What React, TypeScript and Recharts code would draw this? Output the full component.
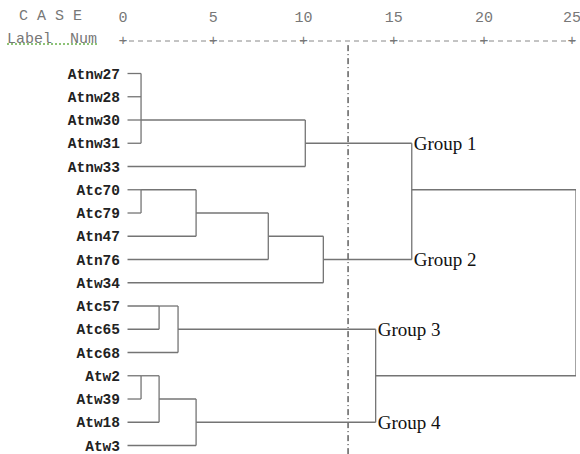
import { ComposedChart, Line, XAxis, YAxis, ReferenceLine, LabelList } from "recharts";

const leafLabels = [
  "Atnw27", "Atnw28", "Atnw30", "Atnw31", "Atnw33",
  "Atc70", "Atc79", "Atn47", "Atn76", "Atw34",
  "Atc57", "Atc65", "Atc68", "Atw2", "Atw39", "Atw18", "Atw3",
];
const distanceTicks = [0, 5, 10, 15, 20, 25];

// each merge: the rows of its children, where each child's line starts, and the joining distance
const mergeRows = [
  [0, 1, 2, 3], [2, 4], [5, 6], [5, 7], [6, 8], [7, 9], [3, 8],
  [10, 11], [10, 12], [13, 14], [13, 15], [14, 16], [11, 15], [5, 13],
];
const mergeStarts = [
  [0.25, 0.25, 0.25, 0.25], [1, 0.25], [0.25, 0.25], [1, 0.25], [4.05, 0.25], [8.05, 0.25], [10.1, 11.1],
  [0.25, 0.25], [2, 0.25], [0.25, 0.25], [1, 0.25], [2, 0.25], [3.05, 4.05], [16, 14],
];
const mergeHeights = [1, 10.1, 1, 4.05, 8.05, 11.1, 16, 2, 3.05, 1, 2, 4.05, 14, 25.1];

const groupLabels = ["Group 1", "Group 2", "Group 3", "Group 4"];
const groupRows = [3, 8, 11, 15];
const cutDistance = 12.47;

type Pt = { x: number; y: number; tag?: string };

const segments: Pt[][] = [];
mergeRows.forEach((rows, i) => {
  const h = mergeHeights[i];
  rows.forEach((r, j) => {
    const g = groupRows.indexOf(r);
    const isGroup = g >= 0 && (i === 6 || i === 12);
    segments.push([
      { x: mergeStarts[i][j], y: r },
      { x: h, y: r, tag: isGroup ? groupLabels[g] : undefined },
    ]);
  });
  segments.push([
    { x: h, y: Math.min(...rows) },
    { x: h, y: Math.max(...rows) },
  ]);
});

const LINE = "#747474";
const MONO = "'Liberation Mono', 'Courier New', monospace";

function TopTick(props: any) {
  const { x, y, payload } = props;
  return (
    <g>
      <text x={x} y={18} textAnchor="middle" dominantBaseline="central" fill="#777" fontSize={15} fontFamily={MONO}>
        {payload.value}
      </text>
      <text x={x} y={y} textAnchor="middle" dominantBaseline="central" fill="#777" fontSize={15} fontFamily={MONO}>
        +
      </text>
    </g>
  );
}

export default function App() {
  return (
    <div style={{ position: "absolute", left: 0, top: 0, width: 580, height: 454, background: "#fff" }}>
      <div style={{ position: "absolute", left: 19, top: 8, fontFamily: MONO, fontSize: 15, color: "#777", whiteSpace: "pre" }}>
        C A S E
      </div>
      <div
        style={{
          position: "absolute", left: 7, top: 31, fontFamily: MONO, fontSize: 15, color: "#777", whiteSpace: "pre",
          textDecoration: "underline dotted #6ab04c",
        }}
      >
        Label  Num
      </div>
      <ComposedChart width={580} height={454} margin={{ top: 11, right: 4, bottom: 0, left: 0 }}>
        <XAxis
          xAxisId={0}
          type="number"
          dataKey="x"
          orientation="top"
          domain={[0, 25.1]}
          allowDataOverflow
          ticks={distanceTicks}
          height={30}
          tickSize={0}
          tickMargin={0}
          tick={<TopTick />}
          axisLine={{ stroke: "#888", strokeDasharray: "5 4", strokeDashoffset: -6 }}
          tickLine={false}
        />
        <YAxis
          type="number"
          dataKey="y"
          reversed
          domain={[-1.398, 16.365]}
          allowDataOverflow
          ticks={leafLabels.map((_, i) => i)}
          interval={0}
          tickFormatter={(v: number) => leafLabels[v] ?? ""}
          width={123}
          tickSize={0}
          tickMargin={3}
          axisLine={false}
          tickLine={false}
          tick={{ fill: "#222", fontSize: 14.5, fontFamily: MONO, fontWeight: 700 }}
        />
        <ReferenceLine
          segment={[{ x: cutDistance, y: -1.22 }, { x: cutDistance, y: 16.365 }]}
          stroke="#111"
          strokeDasharray="6 3 1 3"
          strokeWidth={1}
        />
        {segments.map((seg, k) => (
          <Line
            key={k}
            data={seg}
            dataKey="y"
            stroke={LINE}
            strokeWidth={1.3}
            dot={false}
            activeDot={false}
            isAnimationActive={false}
            type="linear"
          >
            <LabelList
              dataKey="tag"
              position="right"
              offset={2}
              fill="#111"
              fontSize={19}
              fontFamily="'Liberation Serif', 'Times New Roman', serif"
            />
          </Line>
        ))}
      </ComposedChart>
    </div>
  );
}
